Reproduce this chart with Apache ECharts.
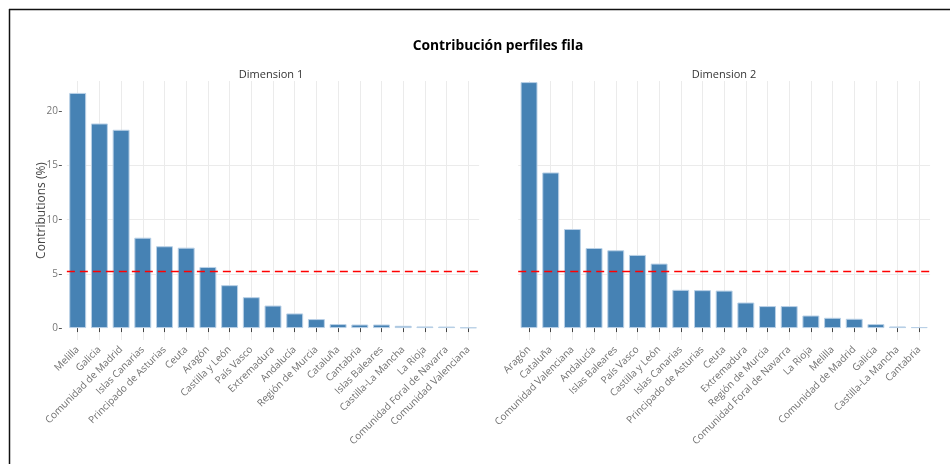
<!DOCTYPE html>
<html>
<head>
<meta charset="utf-8">
<script src="https://cdn.jsdelivr.net/npm/echarts@6/dist/echarts.min.js"></script>
<style>
  html, body { margin: 0; padding: 0; background: #fff; }
  #main { width: 950px; height: 464px; }
</style>
</head>
<body>
<div id="main"></div>
<script>
// Dimension 1 contributions (%)
var dim1Names = ['Melilla', 'Galicia', 'Comunidad de Madrid', 'Islas Canarias', 'Principado de Asturias',
  'Ceuta', 'Aragón', 'Castilla y León', 'País Vasco', 'Extremadura', 'Andalucía', 'Región de Murcia',
  'Cataluña', 'Cantabria', 'Islas Baleares', 'Castilla-La Mancha', 'La Rioja',
  'Comunidad Foral de Navarra', 'Comunidad Valenciana'];
var dim1Values = [21.7, 18.88, 18.3, 8.34, 7.55, 7.42, 5.64, 3.96, 2.85, 2.08, 1.35, 0.83,
  0.37, 0.33, 0.33, 0.21, 0.15, 0.14, 0.06];

// Dimension 2 contributions (%)
var dim2Names = ['Aragón', 'Cataluña', 'Comunidad Valenciana', 'Andalucía', 'Islas Baleares',
  'País Vasco', 'Castilla y León', 'Islas Canarias', 'Principado de Asturias', 'Ceuta',
  'Extremadura', 'Región de Murcia', 'Comunidad Foral de Navarra', 'La Rioja', 'Melilla',
  'Comunidad de Madrid', 'Galicia', 'Castilla-La Mancha', 'Cantabria'];
var dim2Values = [22.7, 14.36, 9.14, 7.39, 7.18, 6.75, 5.95, 3.53, 3.5, 3.46, 2.36, 2.03,
  2.03, 1.16, 0.95, 0.86, 0.37, 0.15, 0.09];

var yTicks = [0, 5, 10, 15, 20];
var expectedValue = 5.26; // dashed reference line

var chart = echarts.init(document.getElementById('main'), null, { renderer: 'canvas' });

var fontFam = '"Open Sans", "DejaVu Sans", sans-serif';

function xAxisFor(gridIndex, names) {
  return {
    type: 'category',
    gridIndex: gridIndex,
    data: names,
    boundaryGap: true,
    axisLine: { show: false },
    axisTick: { show: true, alignWithLabel: true, length: 4, lineStyle: { color: '#444' } },
    splitLine: { show: true, alignWithLabel: true, lineStyle: { color: '#ebebeb', width: 1 } },
    axisLabel: {
      interval: 0, rotate: 45, margin: 8, fontSize: 10, color: '#707070', fontFamily: fontFam
    }
  };
}

function yAxisFor(gridIndex, showLabels) {
  return {
    type: 'value',
    gridIndex: gridIndex,
    min: -1.1,
    max: 22.8,
    offset: showLabels ? 5 : 0,
    name: showLabels ? 'Contributions (%)' : '',
    nameLocation: 'middle',
    nameGap: 14,
    nameMoveOverlap: false,
    nameTextStyle: { fontSize: 12, color: '#444', fontFamily: fontFam },
    axisLine: { show: false },
    axisTick: { show: showLabels, length: 3, customValues: yTicks, lineStyle: { color: '#555' } },
    axisLabel: { show: showLabels, customValues: yTicks, margin: 4, fontSize: 10, color: '#777', fontFamily: fontFam },
    splitLine: { show: true, showMinLine: false, showMaxLine: false, lineStyle: { color: '#ebebeb', width: 1 } }
  };
}

function barSeries(idx, values) {
  return {
    type: 'bar',
    xAxisIndex: idx,
    yAxisIndex: idx,
    data: values,
    barWidth: '78%',
    itemStyle: { color: '#4682b4', borderColor: '#b9d0e6', borderWidth: 1 },
    silent: true,
    markLine: {
      silent: true,
      symbol: 'none',
      label: { show: false },
      lineStyle: { color: '#ff0000', type: [8, 5], width: 1.4 },
      data: [{ yAxis: expectedValue }]
    }
  };
}

var option = {
  backgroundColor: '#fff',
  animation: false,
  title: [
    {
      text: 'Contribución perfiles fila', left: 498, top: 39, textAlign: 'center', padding: 0,
      textStyle: { fontSize: 13.8, fontWeight: 'bold', color: '#000', fontFamily: fontFam }
    },
    {
      text: 'Dimension 1', left: 271, top: 69, textAlign: 'center', padding: 0,
      textStyle: { fontSize: 11, fontWeight: 'normal', color: '#333', fontFamily: fontFam }
    },
    {
      text: 'Dimension 2', left: 724, top: 69, textAlign: 'center', padding: 0,
      textStyle: { fontSize: 11, fontWeight: 'normal', color: '#333', fontFamily: fontFam }
    }
  ],
  grid: [
    { left: 66.85, width: 412.3, top: 81, height: 259 },
    { left: 518.2, width: 411.9, top: 81, height: 259 }
  ],
  xAxis: [xAxisFor(0, dim1Names), xAxisFor(1, dim2Names)],
  yAxis: [yAxisFor(0, true), yAxisFor(1, false)],
  series: [barSeries(0, dim1Values), barSeries(1, dim2Values)],
  graphic: [
    { type: 'line', shape: { x1: 9.5, y1: 9, x2: 9.5, y2: 464 }, style: { stroke: '#111', lineWidth: 1.5 } },
    { type: 'line', shape: { x1: 9, y1: 9.5, x2: 950, y2: 9.5 }, style: { stroke: '#111', lineWidth: 1.5 } }
  ]
};

chart.setOption(option);
</script>
</body>
</html>
